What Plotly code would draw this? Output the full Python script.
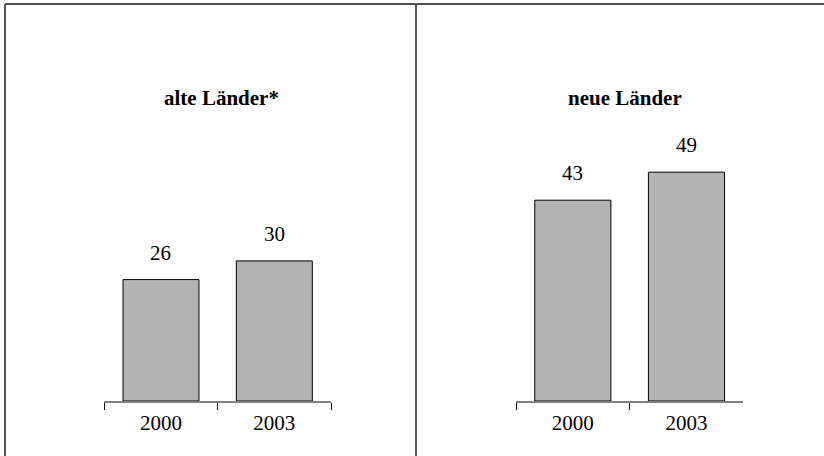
import plotly.graph_objects as go

years = ["2000", "2003"]
alte = [26, 30]
neue = [43, 49]
titles = ["alte Länder*", "neue Länder"]

W, H = 824, 456
FONT = "Liberation Serif, Times New Roman, serif"
FS = 21


def px(x):
    return x / W


def py(y):
    return 1 - y / H


fig = go.Figure()
fig.add_trace(go.Bar(x=years, y=alte, xaxis="x", yaxis="y", width=0.67,
                     marker=dict(color="#b3b3b3", line=dict(color="black", width=1))))
fig.add_trace(go.Bar(x=years, y=neue, xaxis="x2", yaxis="y2", width=0.67,
                     marker=dict(color="#b3b3b3", line=dict(color="black", width=1))))

axis_y = 401
scale = 4.67
ymax = axis_y / scale
ydom = [py(axis_y), 1]


def xax(x0, x1, anchor):
    return dict(type="category", categoryorder="array", categoryarray=years,
                range=[-0.5, 1.5], autorange=False, domain=[px(x0), px(x1)], anchor=anchor,
                showgrid=False, showline=True, linecolor="#808080", linewidth=2,
                ticks="outside", tickson="boundaries", ticklen=7, tickcolor="black", tickwidth=1,
                tickangle=0, ticklabelstandoff=2,
                tickfont=dict(family=FONT, size=FS, color="black"), zeroline=False, fixedrange=True)


def yax(anchor):
    return dict(range=[0, ymax], autorange=False, domain=ydom, anchor=anchor,
                visible=False, showgrid=False, zeroline=False)


fig.update_layout(
    width=W, height=H, margin=dict(l=0, r=0, t=0, b=0),
    paper_bgcolor="white", plot_bgcolor="rgba(0,0,0,0)", showlegend=False,
    xaxis=xax(104.3, 331, "y"),
    xaxis2=xax(516, 743.3, "y2"),
    yaxis=yax("x"),
    yaxis2=yax("x2"),
)

annotations = []
for xa, ya, vals in (("x", "y", alte), ("x2", "y2", neue)):
    for i, v in enumerate(vals):
        annotations.append(dict(x=i, y=v, xref=xa, yref=ya, text=str(v), showarrow=False,
                                yanchor="middle", yshift=27,
                                font=dict(family=FONT, size=FS, color="black")))
for t, cx in zip(titles, [221.5, 624.5]):
    annotations.append(dict(x=px(cx), y=py(98), xref="paper", yref="paper", text="<b>" + t + "</b>",
                            showarrow=False, xanchor="center", yanchor="middle",
                            font=dict(family=FONT, size=FS, color="black")))
fig.update_layout(annotations=annotations)

# frame lines
line = dict(color="#555555", width=2)
fig.add_shape(type="line", xref="paper", yref="paper", x0=px(5), x1=1, y0=py(4), y1=py(4), line=line)
fig.add_shape(type="line", xref="paper", yref="paper", x0=px(5), x1=px(5), y0=0, y1=py(4), line=line)
fig.add_shape(type="line", xref="paper", yref="paper", x0=px(416), x1=px(416), y0=0, y1=py(4), line=line)

fig.write_html("out.html", config={"displayModeBar": False},
               post_script="document.body.style.margin='0';document.body.style.overflow='hidden';")
